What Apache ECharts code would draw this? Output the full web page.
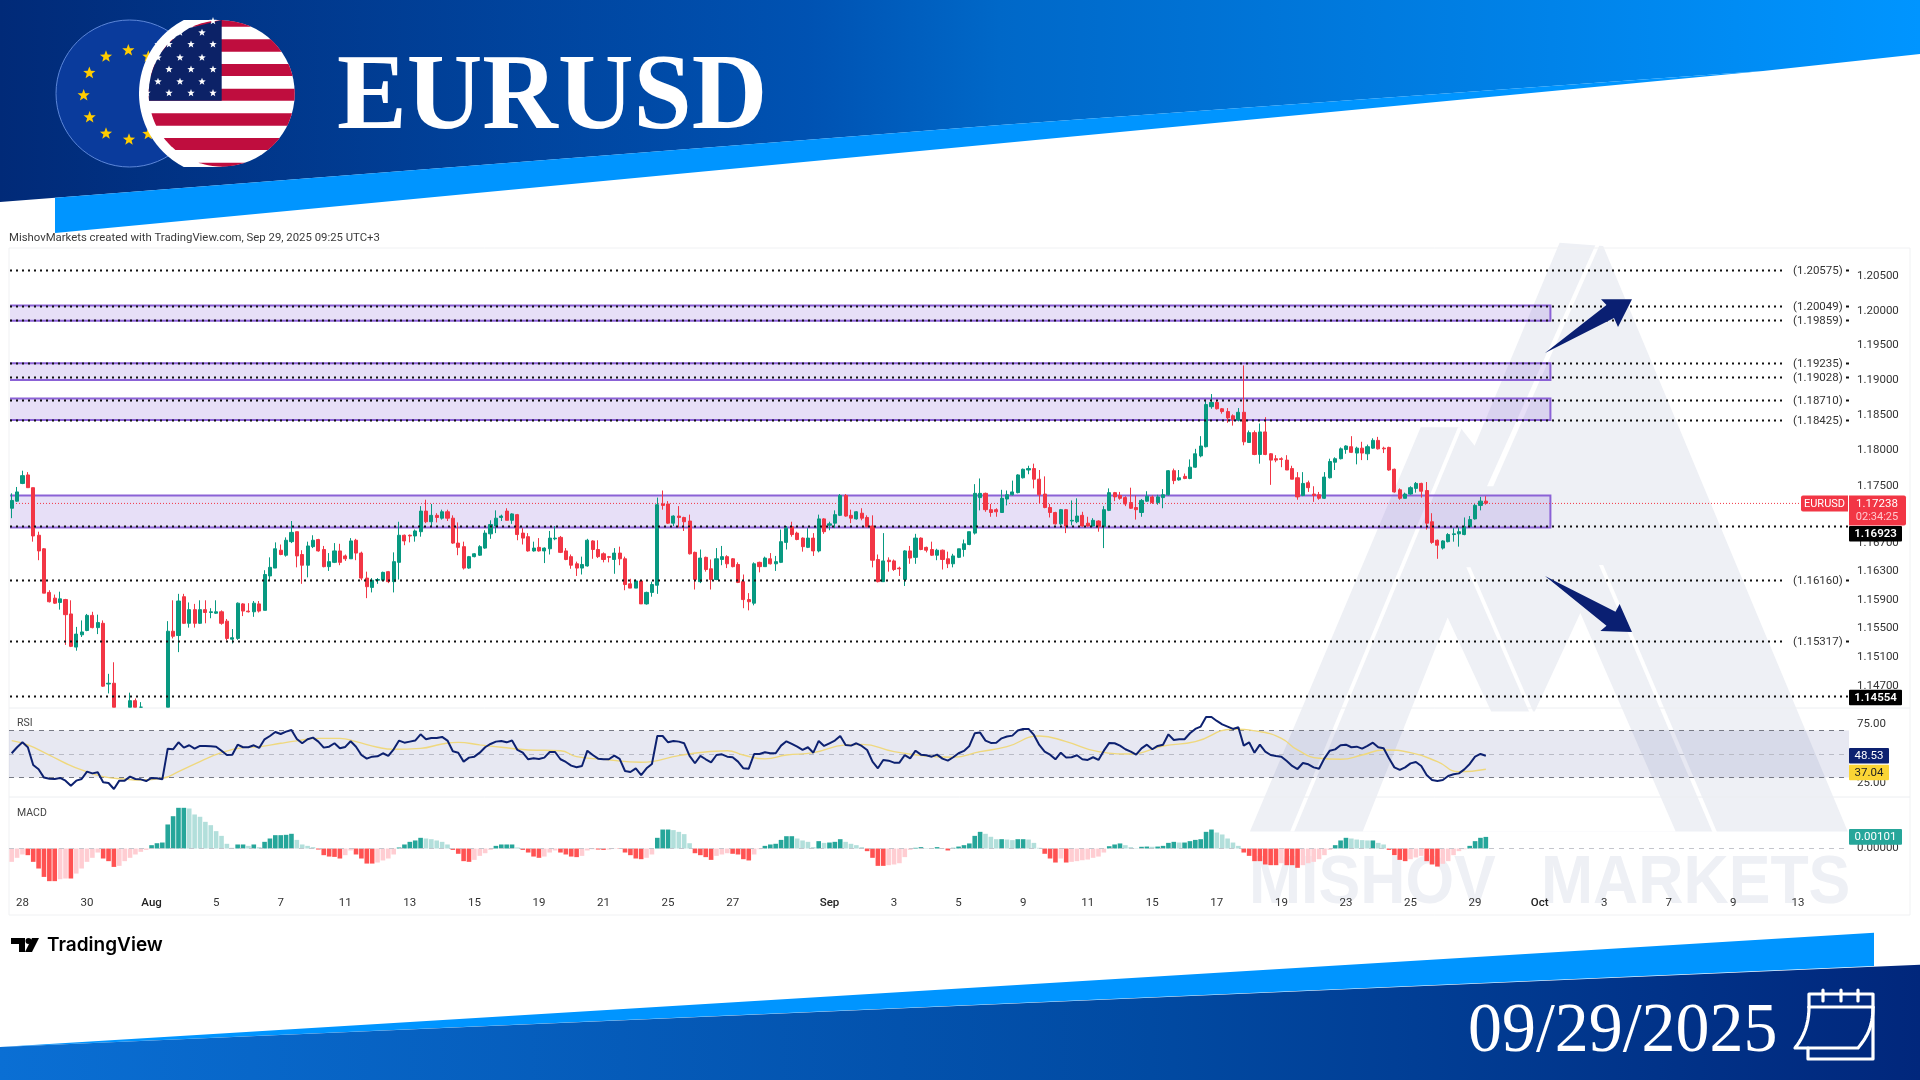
<!DOCTYPE html>
<html><head><meta charset="utf-8">
<script src="https://cdn.jsdelivr.net/npm/echarts@6/dist/echarts.min.js"></script>
<style>html,body{margin:0;padding:0;background:#fff}#c{width:1920px;height:1080px}</style></head>
<body><div id="c"></div>
<script>
// ---- chart values ----
// price in 1/10000 units: open, close, low, high for each 4h bar
const ohlc=[[11717,11728,11703,11738],[11727,11740,11726,11747],[11752,11763,11751,11770],[11764,11746,11746,11768],[11746,11678,11670,11746],[11679,11657,11644,11684],[11660,11598,11598,11661],[11599,11586,11585,11602],[11591,11584,11583,11596],[11585,11590,11575,11600],
[11589,11568,11526,11590],[11569,11524,11523,11588],[11523,11541,11518,11551],[11540,11544,11537,11560],[11546,11567,11545,11569],[11567,11550,11549,11572],[11550,11557,11541,11568],[11556,11469,11468,11560],[11472,11473,11459,11486],[11473,11426,11420,11502],
[11426,11403,11398,11430],[11403,11421,11395,11426],[11421,11449,11418,11460],[11449,11426,11420,11452],[11435,11426,11415,11447],[11426,11417,11410,11432],[11417,11426,11412,11435],[11426,11412,11405,11430],[11412,11405,11392,11418],[11405,11545,11400,11559],
[11545,11538,11535,11588],[11539,11587,11516,11597],[11593,11556,11555,11597],[11556,11575,11550,11585],[11575,11556,11550,11583],[11556,11575,11555,11588],[11575,11571,11556,11588],[11571,11572,11563,11577],[11570,11572,11569,11588],[11572,11556,11554,11574],
[11559,11535,11532,11562],[11534,11536,11528,11548],[11535,11584,11533,11585],[11583,11573,11566,11584],[11573,11572,11571,11584],[11572,11584,11565,11587],[11583,11573,11571,11587],[11574,11624,11574,11630],[11622,11634,11616,11648],[11633,11660,11633,11669],
[11658,11652,11651,11666],[11651,11672,11649,11676],[11670,11683,11668,11699],[11684,11650,11634,11684],[11652,11637,11611,11658],[11637,11664,11620,11670],[11663,11672,11661,11679],[11673,11657,11656,11674],[11659,11635,11634,11664],[11635,11642,11629,11654],
[11641,11657,11640,11668],[11657,11641,11637,11667],[11650,11646,11643,11652],[11646,11671,11646,11675],[11672,11654,11644,11674],[11654,11619,11616,11656],[11619,11607,11591,11628],[11606,11616,11599,11619],[11616,11617,11611,11619],[11616,11627,11615,11628],
[11628,11614,11612,11629],[11614,11642,11599,11655],[11641,11679,11617,11698],[11679,11671,11665,11680],[11679,11678,11669,11680],[11678,11685,11670,11687],[11684,11713,11677,11720],[11713,11698,11696,11729],[11698,11707,11692,11723],[11707,11704,11697,11710],
[11703,11712,11701,11715],[11712,11703,11699,11715],[11703,11668,11667,11707],[11668,11662,11651,11697],[11663,11633,11631,11670],[11633,11649,11632,11650],[11649,11653,11648,11654],[11651,11663,11650,11665],[11661,11682,11660,11686],[11681,11694,11674,11700],
[11692,11703,11682,11714],[11704,11706,11699,11708],[11713,11700,11700,11717],[11700,11709,11695,11710],[11708,11680,11672,11709],[11682,11675,11666,11689],[11677,11657,11656,11682],[11657,11661,11656,11670],[11662,11657,11656,11675],[11657,11661,11640,11662],
[11660,11675,11652,11685],[11674,11675,11672,11692],[11676,11655,11654,11678],[11657,11645,11644,11661],[11649,11637,11632,11652],[11639,11633,11622,11642],[11633,11638,11624,11649],[11636,11672,11635,11674],[11671,11659,11646,11672],[11659,11649,11647,11672],
[11653,11645,11641,11655],[11649,11648,11641,11650],[11645,11654,11625,11661],[11654,11646,11637,11663],[11646,11610,11602,11649],[11611,11605,11605,11618],[11605,11615,11605,11617],[11615,11583,11583,11616],[11583,11599,11582,11600],[11599,11610,11593,11614],
[11609,11722,11597,11732],[11723,11721,11715,11742],[11723,11696,11695,11727],[11696,11706,11692,11707],[11706,11704,11690,11720],[11704,11698,11685,11705],[11699,11653,11652,11708],[11655,11617,11603,11656],[11614,11647,11612,11659],[11648,11631,11628,11649],
[11632,11617,11603,11645],[11617,11646,11616,11661],[11645,11649,11637,11664],[11649,11639,11633,11651],[11646,11635,11634,11647],[11638,11613,11612,11641],[11614,11589,11577,11624],[11589,11586,11574,11598],[11584,11639,11581,11641],[11641,11635,11627,11642],
[11635,11647,11635,11649],[11646,11639,11638,11654],[11639,11642,11629,11650],[11641,11670,11640,11687],[11669,11689,11659,11692],[11691,11680,11677,11698],[11682,11673,11672,11684],[11675,11663,11656,11676],[11662,11675,11661,11689],[11675,11657,11650,11682],
[11657,11702,11655,11708],[11702,11684,11681,11703],[11693,11695,11686,11698],[11696,11708,11689,11714],[11707,11735,11706,11737],[11735,11706,11705,11737],[11707,11703,11696,11715],[11702,11712,11701,11713],[11710,11703,11700,11717],[11704,11691,11690,11707],
[11692,11644,11634,11707],[11645,11614,11613,11652],[11614,11643,11614,11682],[11644,11642,11628,11648],[11643,11631,11629,11645],[11633,11632,11622,11635],[11617,11657,11608,11658],[11657,11647,11639,11664],[11648,11675,11639,11681],[11675,11659,11658,11676],
[11662,11658,11655,11663],[11659,11651,11650,11670],[11651,11658,11644,11660],[11658,11645,11631,11659],[11646,11639,11633,11656],[11639,11650,11634,11653],[11648,11660,11647,11660],[11659,11667,11649,11673],[11666,11684,11665,11684],[11682,11738,11680,11751],
[11732,11738,11714,11759],[11738,11715,11712,11739],[11715,11711,11705,11723],[11715,11712,11705,11717],[11711,11731,11711,11743],[11730,11736,11721,11742],[11736,11740,11735,11756],[11739,11764,11738,11765],[11760,11772,11759,11773],[11771,11773,11765,11777],
[11773,11758,11745,11780],[11758,11736,11724,11771],[11737,11718,11717,11762],[11718,11711,11704,11723],[11711,11695,11694,11712],[11695,11715,11693,11716],[11715,11692,11682,11716],[11699,11700,11693,11728],[11698,11706,11696,11731],[11707,11692,11691,11712],
[11696,11692,11691,11705],[11692,11700,11691,11703],[11699,11691,11684,11700],[11691,11715,11661,11720],[11714,11739,11713,11745],[11739,11733,11727,11740],[11735,11731,11729,11740],[11732,11723,11720,11734],[11725,11717,11716,11746],[11718,11715,11701,11735],
[11711,11728,11705,11730],[11727,11734,11726,11741],[11733,11725,11723,11735],[11725,11733,11722,11736],[11732,11736,11717,11744],[11736,11770,11735,11771],[11770,11756,11751,11773],[11757,11760,11756,11771],[11762,11759,11758,11766],[11759,11775,11758,11786],
[11775,11794,11774,11801],[11791,11805,11789,11819],[11804,11864,11803,11871],[11861,11867,11858,11879],[11867,11858,11857,11870],[11858,11854,11851,11859],[11854,11845,11838,11859],[11848,11843,11834,11850],[11842,11853,11840,11859],[11853,11811,11806,11920],
[11810,11824,11810,11827],[11824,11793,11792,11827],[11793,11825,11780,11837],[11825,11793,11792,11846],[11794,11785,11750,11795],[11787,11785,11782,11792],[11787,11786,11775,11789],[11785,11771,11771,11792],[11773,11758,11758,11777],[11760,11733,11729,11768],
[11735,11752,11734,11768],[11753,11746,11740,11756],[11737,11735,11726,11748],[11736,11731,11729,11740],[11731,11761,11730,11768],[11760,11783,11759,11787],[11782,11787,11771,11789],[11787,11801,11786,11803],[11800,11805,11794,11806],[11804,11796,11795,11819],
[11795,11802,11779,11804],[11802,11795,11785,11811],[11794,11804,11785,11807],[11802,11813,11801,11816],[11813,11801,11800,11818],[11802,11801,11795,11804],[11803,11771,11770,11804],[11772,11740,11739,11773],[11743,11731,11729,11745],[11731,11737,11731,11739],
[11737,11746,11736,11748],[11745,11752,11739,11754],[11752,11741,11732,11753],[11742,11696,11687,11754],[11698,11669,11667,11710],[11672,11665,11646,11673],[11661,11671,11659,11672],[11670,11680,11669,11682],[11680,11681,11670,11689],[11681,11684,11663,11690],
[11680,11691,11679,11704],[11691,11701,11690,11706],[11702,11721,11701,11723],[11721,11727,11714,11733],[11727,11724,11722,11734]];

const rsi=[50.6,55.7,59.9,55.7,40.6,37.0,29.9,29.0,28.7,29.6,27.3,23.0,27.3,28.7,35.0,33.5,34.4,25.9,25.3,20.2,27.3,27.3,30.7,28.7,28.4,27.0,29.6,29.3,28.4,54.5,54.0,59.9,55.4,57.4,54.5,56.8,56.8,56.5,56.2,52.8,49.1,49.4,57.9,55.7,55.7,57.4,55.1,62.5,65.3,68.7,67.0,69.0,70.4,62.8,59.1,62.5,63.9,60.5,55.4,56.2,59.1,54.8,56.0,60.8,56.2,49.1,46.0,47.7,48.0,50.6,48.3,54.0,61.4,59.6,60.5,61.4,66.7,62.5,63.6,63.6,64.5,61.4,52.3,51.1,43.5,46.9,47.7,51.1,55.7,58.5,60.5,61.1,59.9,61.4,53.4,51.1,45.5,46.3,45.8,46.9,51.7,51.7,45.5,43.2,40.1,38.7,39.8,52.8,49.1,46.0,45.5,45.5,48.6,45.8,35.5,34.7,37.8,32.1,37.8,41.5,65.3,65.3,59.9,61.1,60.5,59.1,48.3,42.1,48.3,45.5,42.9,49.1,49.7,47.7,47.2,43.5,37.8,37.5,50.0,50.0,51.4,50.6,50.6,57.1,60.8,58.5,56.2,53.4,55.7,51.1,61.1,56.8,59.1,61.4,65.3,57.7,57.1,59.1,56.8,53.4,43.5,37.8,44.9,44.3,42.6,42.6,49.1,46.3,52.8,49.4,48.9,47.7,49.4,46.0,44.3,47.2,50.6,52.6,56.8,67.6,68.2,61.4,59.4,59.6,63.3,64.8,65.6,69.9,71.3,71.3,66.2,57.7,52.0,49.4,45.5,51.1,46.9,47.2,48.9,45.5,44.9,47.2,44.9,52.8,59.4,59.1,57.1,54.0,52.0,49.4,54.8,57.9,54.0,56.8,57.9,66.7,61.9,62.5,62.5,67.6,71.3,73.3,81.5,81.5,78.1,75.2,73.3,71.3,72.7,57.1,59.9,51.1,57.9,52.0,49.1,48.3,47.7,44.0,39.8,37.2,42.3,41.2,38.6,37.5,46.3,52.8,53.9,57.4,57.9,55.7,56.2,54.5,56.8,59.6,55.7,54.8,46.3,38.6,36.4,38.6,42.0,43.2,39.8,32.1,27.9,27.0,27.9,31.3,32.7,33.5,36.9,41.5,47.7,50.0,48.53];
// RSI-based moving average, read as [bar, value]
const rsiMA=[[0,61.4],[3,57.7],[7,49.1],[10,42.1],[13,36.4],[17,30.7],[21,28.7],[24,27.9],[28,29.3],[31,35.0],[35,43.5],[39,51.1],[43,55.4],[46,56.2],[50,59.1],[53,61.1],[57,63.3],[61,63.3],[64,60.5],[68,55.7],[71,54.0],[76,54.8],[80,58.5],[83,59.9],[87,57.7],[91,55.7],[96,53.4],[102,52.8],[105,47.7],[110,45.5],[117,42.9],[119,43.5],[124,48.6],[133,52.8],[136,49.1],[140,45.8],[144,49.1],[149,51.1],[155,57.7],[158,58.2],[164,52.0],[170,48.3],[175,47.2],[180,52.0],[185,56.2],[191,65.3],[196,60.5],[202,52.0],[208,50.0],[214,56.8],[220,60.5],[227,71.0],[232,69.0],[236,63.3],[239,53.4],[243,46.3],[247,45.5],[251,49.1],[255,53.4],[260,51.1],[265,43.5],[269,34.9],[274,37.04]];
// MACD histogram in 1e-5 price units
const macd=[-116,-81,-52,-58,-116,-174,-247,-284,-284,-267,-261,-261,-218,-174,-116,-81,-35,-87,-110,-160,-151,-110,-81,-52,-29,-12,
29,46,52,209,281,354,354,348,296,276,232,203,151,110,41,6,35,35,23,35,12,58,87,116,116,119,128,75,35,23,12,
-9,-58,-70,-73,-87,-58,-17,-52,-87,-131,-131,-122,-104,-87,-52,
9,35,58,70,93,87,81,70,58,35,
-12,-46,-110,-116,-99,-64,-41,-12,
23,35,35,35,9,
-12,-35,-70,-81,-70,-35,-17,-35,-52,-70,-75,-64,-17,-6,-9,-12,-9,-3,-3,-35,-58,-87,-93,-81,-52,
93,165,165,160,145,125,46,
-41,-58,-75,-99,-64,-52,-41,-46,-52,-93,-104,-52,-6,
23,35,41,75,107,107,87,70,58,12,64,49,52,58,81,58,41,29,12,
-23,-81,-151,-151,-145,-139,-128,-75,-12,
6,12,3,3,12,3,-17,6,17,29,44,110,145,128,102,81,81,78,73,81,81,78,49,6,
-46,-87,-122,-87,-122,-116,-110,-102,-96,-81,-70,-35,
20,35,44,29,12,3,15,17,15,17,23,49,58,52,52,64,75,81,145,165,139,122,87,52,23,
-35,-64,-110,-110,-139,-145,-145,-128,-145,-145,-168,-145,-128,-116,-93,-58,-12,
29,70,93,87,78,73,70,70,49,35,
-12,-58,-99,-110,-93,-78,-64,-110,-139,-157,-133,-110,-58,-23,-6,
23,64,93,101];

const zones=[[1.2006,1.1984],[1.1923,1.1899],[1.18725,1.1842],[1.1735,1.1690]];
const zoneEndBar=286;
const labelledLevels=[1.20575,1.20049,1.19859,1.19235,1.19028,1.1871,1.18425,1.1616,1.15317];
const taggedLevels=[1.16923,1.14554];
const lastPrice=1.17238;
const priceTicks=[1.205,1.2,1.195,1.19,1.185,1.18,1.175,1.167,1.163,1.159,1.155,1.151,1.147];
const rsiTicks=[75,25];
const rsiLevels=[70,50,30];
const tickBars=[2,14,26,38,50,62,74,86,98,110,122,134,152,164,176,188,200,212,224,236,248,260,272,284,296,308,320,332];
const tickTexts=['28','30','Aug','5','7','11','13','15','19','21','25','27','Sep','3','5','9','11','15','17','19','23','25','29','Oct','3','7','9','13'];
const barSlots=342;
const priceMin=1.14389,priceMax=1.20851;

// ---- layout ----
const L=9,R=1849,PW=R-L;
const categories=new Array(barSlots).fill('');
tickBars.forEach((b,i)=>{categories[b]=tickTexts[i]});
// the pane cuts the chart off at its lower edge
const floorPips=11440;
const candleData=ohlc.map(r=>r[3]<floorPips?'-':r.map(v=>Math.max(v,floorPips)/10000));
const macdColors=macd.map((v,i)=>{const p=i?macd[i-1]:v;return v>=0?(v>=p&&i?'#26a69a':'#b2dfdb'):(v<=p&&i?'#ff5252':'#ffcdd2')});
const FONT='Roboto,"Liberation Sans",sans-serif';
const txt=(x,y,text,fill,font,align)=>({type:'text',silent:true,style:{x,y,text,fill,font,align:align||'left',verticalAlign:'middle',textAlign:align||'left',textVerticalAlign:'middle'}});

function zonesItem(p,api){const z=zones[p.dataIndex];const a=api.coord([zoneEndBar,z[0]]),b=api.coord([zoneEndBar,z[1]]);
 return {type:'group',children:[
  {type:'rect',shape:{x:L+1,y:a[1],width:a[0]-L-1,height:b[1]-a[1]},style:{fill:'rgba(126,87,214,0.19)'}},
  {type:'polyline',shape:{points:[[L+1,a[1]],[a[0],a[1]],[a[0],b[1]],[L+1,b[1]]]},style:{fill:null,stroke:'#8b62d6',lineWidth:2}}]}}
function levelItem(p,api){const v=labelledLevels[p.dataIndex];const y=Math.round(api.coord([0,v])[1])+.5;
 const s={stroke:'#111',lineWidth:2,lineDash:[2,4]};
 return {type:'group',children:[{type:'line',shape:{x1:L+1,y1:y,x2:1782,y2:y},style:s},{type:'line',shape:{x1:1846,y1:y,x2:1849,y2:y},style:{stroke:'#111',lineWidth:2}},txt(1793,y+.5,'('+v.toFixed(5)+')','#333','11.5px '+FONT)]}}
function tagLevelItem(p,api){const v=taggedLevels[p.dataIndex];const y=Math.round(api.coord([0,v])[1])+.5;
 return {type:'line',shape:{x1:L+1,y1:y,x2:R,y2:y},style:{stroke:'#111',lineWidth:2,lineDash:[2,4]}}}
function lastLineItem(p,api){const y=api.coord([0,lastPrice])[1];
 return {type:'line',shape:{x1:L+1,y1:y,x2:1801,y2:y},style:{stroke:'#f23645',lineWidth:1,lineDash:[1,2]}}}
// axis tags: value comes from the data, the box follows the axis
function tag(v,text,bg,fg,dy,w,bold){return {v,text,bg,fg,dy,w,bold}}
const mainTags=[tag(1.16923,'1.16923','#000','#fff',8,53,true),tag(1.14554,'1.14554','#000','#fff',1.5,53,true)];
const rsiTags=[tag(48.53,'48.53','#0d2170','#fff',0,40),tag(37.04,'37.04','#fbd535','#222',3.3,40)];
const macdTags=[tag(101,'0.00101','#26a69a','#fff',0,53)];
const tagItem=list=>(p,api)=>{const t=list[p.dataIndex];const y=api.coord([0,t.v])[1]+t.dy;
 return {type:'group',children:[{type:'rect',shape:{x:R,y:y-7.8,width:t.w,height:15.6,r:1},style:{fill:t.bg}},txt(R+t.w/2,y+.5,t.text,t.fg,(t.bold?'600 ':'')+'11.5px '+FONT,'center')]}};
function priceTagItem(p,api){const y=api.coord([0,lastPrice])[1];
 return {type:'group',children:[
  {type:'rect',shape:{x:1801,y:y-8,width:47,height:16,r:[2,0,0,2]},style:{fill:'#f23645'}},
  {type:'rect',shape:{x:R,y:y-8,width:57,height:30,r:[0,2,2,0]},style:{fill:'#f23645'}},
  txt(1824.5,y+.5,'EURUSD','#fff','11px '+FONT,'center'),
  txt(R+28,y+.5,lastPrice.toFixed(5),'#fff','11.5px '+FONT,'center'),
  txt(R+28,y+13.5,'02:34:25','#ffc9cf','11px '+FONT,'center')]}}

const custom=(name,fn,n,xi,yi,z)=>({type:'custom',name,renderItem:fn,xAxisIndex:xi,yAxisIndex:yi,z,silent:true,clip:false,animation:false,
  data:Array.from({length:n},(_,i)=>[i,0]),encode:{x:0},tooltip:{show:false}});

// ---- decoration ----
const zx=X=>1230+X/2.412, zy=Y=>235+Y/2.288;
const zp=a=>a.map(p=>[zx(p[0]),zy(p[1])]);
const poly=(pts,fill,z)=>({type:'polygon',silent:true,z:z||0,shape:{points:pts},style:{fill}});
const WM='#eef0f5';
const wmz=-2;
function star(cx,cy,r,fill){const pts=[];for(let i=0;i<10;i++){const a=-Math.PI/2+i*Math.PI/5,rr=i%2?r*.42:r;pts.push([cx+rr*Math.cos(a),cy+rr*Math.sin(a)])}return poly(pts,fill,1)}
const fx=X=>40+X/3,fy=Y=>10+Y/3;
const US={x:221.7,y:93.5,r:73};
function chord(y1,y2,xMax,fill){const pts=[];const {x,y,r}=US;const dx=v=>Math.sqrt(Math.max(0,r*r-(v-y)*(v-y)));
 const n=10;for(let i=0;i<=n;i++){const v=y1+(y2-y1)*i/n;pts.push([Math.min(x+dx(v),xMax),v])}
 for(let i=n;i>=0;i--){const v=y1+(y2-y1)*i/n;pts.push([x-dx(v),v])}return poly(pts,fill,1)}
// white halo of the US disc, cut flat at top and bottom
function halo(){const pts=[[221.7,20]],r=82.7,cy=93.5,cx=221.7;for(let v=20;v<=167;v+=4){pts.push([cx-Math.sqrt(r*r-(v-cy)*(v-cy)),v])}pts.push([cx-Math.sqrt(r*r-73.5*73.5),167],[221.7,167]);return poly(pts,'#fff',1)}
function bez(p0,p1,p2,p3){const a=[];for(let i=0;i<=16;i++){const t=i/16,u=1-t;a.push([u*u*u*p0[0]+3*u*u*t*p1[0]+3*u*t*t*p2[0]+t*t*t*p3[0],u*u*u*p0[1]+3*u*u*t*p1[1]+3*u*t*t*p2[1]+t*t*t*p3[1]])}return a}
const pl=pts=>({type:'polyline',silent:true,z:1,shape:{points:pts},style:{fill:null,stroke:'#fff',lineWidth:3.2,lineJoin:'round',lineCap:'round'}});
const usStars=[[420,68],[486,68],[519,33],[354,103],[387,103],[453,103],[519,103],[354,143],[420,143],[486,143],[387,178],[453,178],[519,178],[354,215],[420,215],[486,215],[321,249],[387,249],[453,249],[519,249]];
const euStars=[[265,121],[198,140],[148,189],[131,256],[149,322],[198,371],[267,389],[325,372],[325,140]];
const usRed=[[30,50],[88,125],[162,198],[236,272],[310,347],[384,420],[458,472]];
const graphics=[
 // top banner
 poly([[0,0],[1920,0],[1920,54],[1763,71],[1000,125],[0,202]],{type:'linear',x:0,y:0,x2:1,y2:0,colorStops:[{offset:0,color:'#012a78'},{offset:.42,color:'#0052b2'},{offset:.52,color:'#0068c8'},{offset:1,color:'#0095ff'}]},-3),
 poly([[55,197.8],[1000,125],[1763,71],[55,233]],'#0095ff',-3),
 // bottom banner
 poly([[0,1047],[1874,932.7],[1874,966],[0,1047]],'#0095ff',-3),
 poly([[0,1047],[1920,964.7],[1920,1080],[0,1080]],{type:'linear',x:0,y:0,x2:1,y2:0,colorStops:[{offset:0,color:'#0a6fd4'},{offset:.6,color:'#014aa2'},{offset:1,color:'#01277c'}]},-3),
 // flags
 {type:'circle',silent:true,z:0,shape:{cx:129.5,cy:93.5,r:73.5},style:{fill:'#0a3b9c',stroke:'#5c86d8',lineWidth:1}},
 ...euStars.map(s=>star(fx(s[0]),fy(s[1]),6.4,'#ffcc00')),
 halo(),
 {type:'circle',silent:true,z:1,shape:{cx:US.x,cy:US.y,r:US.r},style:{fill:'#fff'}},
 ...usRed.map(r=>chord(fy(r[0]),fy(r[1]),9999,'#bf0d3e')),
 chord(fy(30),fy(272),US.x,'#0c2267'),
 ...usStars.map(s=>star(fx(s[0]),fy(s[1]),3.9,'#fff')),
 // titles
 {type:'text',silent:true,z:1,x:337,y:100,scaleX:.96,style:{text:'EURUSD',fill:'#fff',font:'bold 109px "Liberation Serif",serif',align:'left',verticalAlign:'middle',textAlign:'left',textVerticalAlign:'middle'}},
 {type:'text',silent:true,z:1,x:1468,y:1033,scaleX:.97,style:{text:'09/29/2025',fill:'#fff',font:'70px "Liberation Serif",serif',align:'left',verticalAlign:'middle',textAlign:'left',textVerticalAlign:'middle'}},
 pl([[1809,1007],[1809,994],[1873,994],[1873,1059],[1808,1059],[1808,1048]]),
 pl([[1809,1007],[1873,1007]]),
 pl(bez([1809,1007],[1809,1025],[1803,1038],[1795,1048]).concat(bez([1858,1048],[1866,1038],[1873,1028],[1873,1007]))),
 pl([[1823,990],[1823,1001]]),pl([[1841,990],[1841,1001]]),pl([[1858,990],[1858,1001]]),
 // watermark
 poly(zp([[48,1365],[460,440],[555,440],[590,482],[795,18],[900,25],[1490,1365]]),WM,wmz),
 poly(zp([[525,875],[630,1090],[735,1090],[845,865],[1075,1365],[320,1365]]),'#fff',wmz),
 poly(zp([[145,1365],[155,1365],[560,440],[550,440]]),'#fff',wmz),
 poly(zp([[620,575],[635,575],[892,22],[882,22]]),'#fff',wmz),
 poly(zp([[570,760],[580,760],[732,1092],[722,1092]]),'#fff',wmz),
 poly(zp([[890,755],[900,755],[1175,1367],[1164,1367]]),'#fff',wmz),
 {type:'text',silent:true,z:wmz,x:1249,y:884,scaleX:.92,style:{text:'MISHOV',fill:WM,font:'bold 68px "Liberation Sans",sans-serif',align:'left',verticalAlign:'middle',textAlign:'left',textVerticalAlign:'middle'}},
 {type:'text',silent:true,z:wmz,x:1541,y:884,scaleX:.92,style:{text:'MARKETS',fill:WM,font:'bold 68px "Liberation Sans",sans-serif',align:'left',verticalAlign:'middle',textAlign:'left',textVerticalAlign:'middle'}},
 // frame
 {type:'rect',silent:true,z:-1,shape:{x:9,y:248,width:1901,height:667},style:{fill:null,stroke:'#f0f1f3',lineWidth:1}},
 {type:'line',silent:true,z:-1,shape:{x1:9,y1:708,x2:1910,y2:708},style:{stroke:'#eceef1',lineWidth:1}},
 {type:'line',silent:true,z:-1,shape:{x1:9,y1:797,x2:1910,y2:797},style:{stroke:'#eceef1',lineWidth:1}},
 txt(9,238,'MishovMarkets created with TradingView.com, Sep 29, 2025 09:25 UTC+3','#3a3a3a','11.35px '+FONT),
 txt(17,723,'RSI','#444','10.5px '+FONT),
 txt(17,813,'MACD','#444','10.5px '+FONT),
 // TradingView mark
 poly([[11,938],[25,938],[25,952],[19,952],[19,944],[11,944]],'#000',1),
 {type:'circle',silent:true,z:1,shape:{cx:28.5,cy:941,r:3},style:{fill:'#000'}},
 poly([[32,938],[39,938],[32,952],[25,952]],'#000',1),
 txt(47,945,'TradingView','#000','600 19px Inter,'+FONT),
 // arrows
 poly([[1545,353],[1606.5,305],[1601,299.3],[1632,299.3],[1618,327],[1614,318]],'#0a1f72',20),
 poly([[1545,576],[1615.5,611.7],[1619.6,604],[1632,632],[1600.4,631],[1606.5,625.7]],'#0a1f72',20)
];

const xCommon={type:'category',data:categories,boundaryGap:true,axisLine:{show:false},axisTick:{show:false},splitLine:{show:false}};
const bigLabel=v=>/^[A-Z]/.test(v)?'{b|'+v+'}':v;
const option={
 animation:false,backgroundColor:'#fff',graphic:{elements:graphics},
 grid:[{left:L,width:PW,top:251,height:457},{left:L,width:PW,top:708,height:89},{left:L,width:PW,top:797,height:96}],
 xAxis:[{...xCommon,gridIndex:0,axisLabel:{show:false}},{...xCommon,gridIndex:1,axisLabel:{show:false}},
  {...xCommon,gridIndex:2,axisLabel:{show:true,interval:(i,v)=>v!=='',margin:4,fontFamily:'Roboto',fontSize:11.5,color:'#333',hideOverlap:false,formatter:bigLabel,rich:{b:{fontFamily:'Roboto',fontSize:11.5,fontWeight:500,color:'#222'}}}}],
 yAxis:[
  {type:'log',logBase:Math.E,gridIndex:0,position:'right',min:priceMin,max:priceMax,axisLine:{show:false},axisTick:{show:false},splitLine:{show:false},minorTick:{show:false},minorSplitLine:{show:false},
   axisLabel:{customValues:priceTicks,margin:8,fontFamily:'Roboto',fontSize:11.5,color:'#333',verticalAlign:'top',padding:[-5,0,0,0],formatter:v=>(+v).toFixed(5)}},
  {type:'value',gridIndex:1,position:'right',min:13.4,max:89.1,axisLine:{show:false},axisTick:{show:false},splitLine:{show:false},
   axisLabel:{customValues:rsiTicks,margin:8,fontFamily:'Roboto',fontSize:11.5,color:'#333',formatter:v=>(+v).toFixed(2)}},
  {type:'value',gridIndex:2,position:'right',min:-387,max:448,axisLine:{show:false},axisTick:{show:false},splitLine:{show:false},
   axisLabel:{customValues:[0],margin:8,fontFamily:'Roboto',fontSize:11.5,color:'#333',formatter:()=>'0.00000'}}
 ],
 series:[
  custom('zones',zonesItem,zones.length,0,0,1),
  custom('last',lastLineItem,1,0,0,1),
  {type:'candlestick',name:'EURUSD',xAxisIndex:0,yAxisIndex:0,data:candleData,barWidth:3.6,z:3,clip:true,itemStyle:{color:'#089981',color0:'#f23645',borderColor:'#089981',borderColor0:'#f23645',borderWidth:1}},
  custom('levels',levelItem,labelledLevels.length,0,0,4),
  custom('tagLevels',tagLevelItem,taggedLevels.length,0,0,4),
  custom('mainTags',tagItem(mainTags),mainTags.length,0,0,9),
  custom('priceTag',priceTagItem,1,0,0,10),
  {type:'line',name:'RSI MA',xAxisIndex:1,yAxisIndex:1,data:rsiMA,smooth:true,showSymbol:false,lineStyle:{color:'#efd87e',width:1.4},z:3},
  {type:'line',name:'RSI',xAxisIndex:1,yAxisIndex:1,data:rsi,showSymbol:false,lineStyle:{color:'#0d2170',width:2},z:4,
   markArea:{silent:true,z:1,itemStyle:{color:'rgba(40,50,140,0.11)'},data:[[{yAxis:rsiLevels[0]},{yAxis:rsiLevels[2]}]]},
   markLine:{silent:true,symbol:'none',z:2,label:{show:false},lineStyle:{type:[5,5],color:'#787b86',width:1},
     data:rsiLevels.map(v=>({yAxis:v,lineStyle:{color:v===50?'#b9bbc6':'#787b86'}}))}},
  custom('rsiTags',tagItem(rsiTags),rsiTags.length,1,1,9),
  {type:'bar',name:'MACD',xAxisIndex:2,yAxisIndex:2,barWidth:4.6,z:3,data:macd.map((v,i)=>({value:v,itemStyle:{color:macdColors[i]}})),
   markLine:{silent:true,symbol:'none',label:{show:false},lineStyle:{type:[5,5],color:'#c4c6cd',width:1},data:[{yAxis:0}]}},
  custom('macdTags',tagItem(macdTags),macdTags.length,2,2,9)
 ]
};
const chart=echarts.init(document.getElementById('c'),null,{renderer:'canvas'});
chart.setOption(option);
</script></body></html>
